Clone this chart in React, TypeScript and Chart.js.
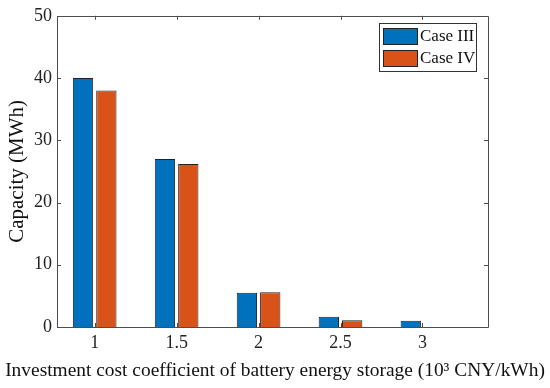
import React, { useEffect, useRef } from "react";
import { Chart, registerables } from "chart.js";

Chart.register(...registerables);

const categories = [1, 1.5, 2, 2.5, 3];
const tickLabels = ["1", "1.5", "2", "2.5", "3"];
const caseIII = [40, 27, 5.5, 1.65, 1.0];
const caseIV = [38, 26.2, 5.6, 1.07, 0];
const yTicks = [0, 10, 20, 30, 40, 50];
const seriesNames = ["Case III", "Case IV"];
const colors = ["#0072BD", "#D95319"];
const xTitle = "Investment cost coefficient of battery energy storage (10³ CNY/kWh)";

const FONT = "'Liberation Serif', 'DejaVu Serif', serif";

const boxPlugin = {
  id: "matlabBox",
  afterDatasetsDraw(chart: any) {
    const { ctx, chartArea: a, scales } = chart;
    ctx.save();
    ctx.strokeStyle = "#4d4d4d";
    ctx.lineWidth = 1;
    ctx.beginPath();
    ctx.rect(Math.round(a.left) + 0.5, Math.round(a.top) + 0.5, Math.round(a.right - a.left), Math.round(a.bottom - a.top));
    ctx.stroke();
    const tl = 4;
    ctx.beginPath();
    categories.forEach((c) => {
      const x = Math.round(scales.x.getPixelForValue(c)) + 0.5;
      ctx.moveTo(x, a.bottom);
      ctx.lineTo(x, a.bottom - tl);
      ctx.moveTo(x, a.top);
      ctx.lineTo(x, a.top + tl);
    });
    yTicks.forEach((v) => {
      const y = Math.round(scales.y.getPixelForValue(v)) + 0.5;
      ctx.moveTo(a.left, y);
      ctx.lineTo(a.left + tl, y);
      ctx.moveTo(a.right, y);
      ctx.lineTo(a.right - tl, y);
    });
    ctx.stroke();

    // legend
    const lx = 379, ly = 23, lw = 97, lh = 48;
    ctx.fillStyle = "#ffffff";
    ctx.fillRect(lx, ly, lw, lh);
    ctx.strokeStyle = "#333";
    ctx.strokeRect(lx + 0.5, ly + 0.5, lw, lh);
    ctx.font = `17px ${FONT}`;
    ctx.textBaseline = "middle";
    ctx.textAlign = "left";
    seriesNames.forEach((name, i) => {
      const sy = ly + 5 + i * 22;
      ctx.fillStyle = colors[i];
      ctx.fillRect(lx + 4, sy, 34, 16);
      ctx.strokeStyle = "#222";
      ctx.strokeRect(lx + 4.5, sy + 0.5, 34, 16);
      ctx.fillStyle = "#111";
      ctx.fillText(name, lx + 41, sy + 9);
    });

    // x axis title, sized to span ~540px like the reference
    ctx.font = `20px ${FONT}`;
    const w = ctx.measureText(xTitle).width;
    const size = Math.min(22, (20 * 540) / w);
    ctx.font = `${size.toFixed(2)}px ${FONT}`;
    ctx.textAlign = "center";
    ctx.textBaseline = "middle";
    ctx.fillStyle = "#111";
    ctx.fillText(xTitle, 275, 371);
    ctx.restore();
  },
};

export default function App() {
  const ref = useRef<HTMLCanvasElement>(null);
  useEffect(() => {
    const chart = new Chart(ref.current!, {
      type: "bar",
      data: {
        datasets: seriesNames.map((name, i) => ({
          label: name,
          data: categories.map((c, j) => ({ x: c, y: (i === 0 ? caseIII : caseIV)[j] })),
          backgroundColor: colors[i],
          borderColor: "#222",
          borderWidth: 1,
          categoryPercentage: 0.57,
          barPercentage: 0.87,
        })),
      },
      plugins: [boxPlugin],
      options: {
        responsive: false,
        animation: false,
        layout: { padding: { top: 13, right: 62, left: 0, bottom: 0 } },
        plugins: { legend: { display: false }, tooltip: { enabled: false } },
        scales: {
          x: {
            type: "linear",
            min: 0.77,
            max: 3.4,
            offset: false,
            grid: { display: false, drawTicks: false, offset: false },
            border: { display: false },
            afterBuildTicks: (s: any) => {
              s.ticks = categories.map((v) => ({ value: v }));
            },
            afterFit: (s: any) => {
              s.height = 61;
            },
            ticks: {
              color: "#222",
              font: { family: FONT, size: 18 },
              padding: 5,
              maxRotation: 0,
              callback: (v: any) => tickLabels[categories.indexOf(Number(v))] ?? "",
            },
            title: { display: false },
          },
          y: {
            min: 0,
            max: 50,
            grid: { display: false, drawTicks: false },
            border: { display: false },
            afterBuildTicks: (s: any) => {
              s.ticks = yTicks.map((v) => ({ value: v }));
            },
            afterFit: (s: any) => {
              s.width = 57;
            },
            ticks: {
              color: "#222",
              font: { family: FONT, size: 18 },
              padding: 5,
            },
            title: {
              display: true,
              text: "Capacity (MWh)",
              color: "#111",
              font: { family: FONT, size: 21 },
              padding: { top: 5, bottom: 0 },
            },
          },
        },
      },
    } as any);
    return () => chart.destroy();
  }, []);
  return (
    <div style={{ position: "fixed", left: 0, top: 0, width: 550, height: 388, background: "#fff" }}>
      <canvas ref={ref} width={550} height={388} />
    </div>
  );
}
